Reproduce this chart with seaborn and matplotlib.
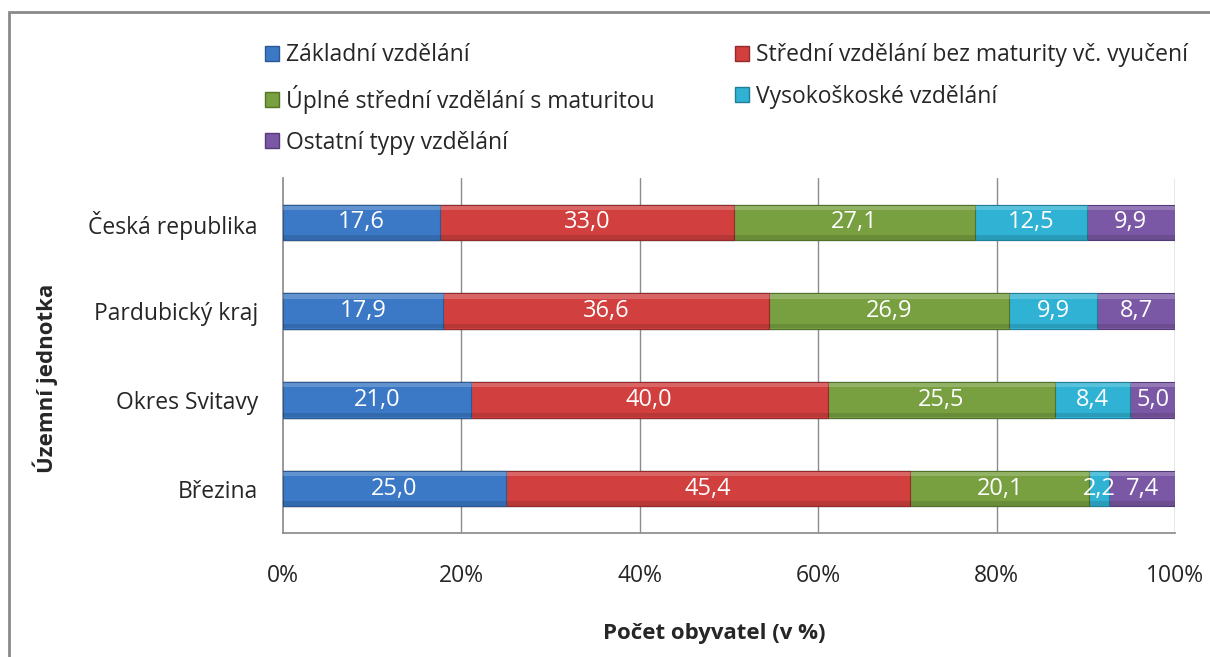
import numpy as np
import pandas as pd
import matplotlib
matplotlib.use("Agg")
import matplotlib.pyplot as plt
import matplotlib.patches as mpatches
import seaborn as sns

# data (in %)
units = ["Česká republika", "Pardubický kraj", "Okres Svitavy", "Březina"]
series = ["Základní vzdělání",
          "Střední vzdělání bez maturity vč. vyučení",
          "Úplné střední vzdělání s maturitou",
          "Vysokoškoské vzdělání",
          "Ostatní typy vzdělání"]
zakladni = [17.6, 17.9, 21.0, 25.0]
stredni = [33.0, 36.6, 40.0, 45.4]
uplne = [27.1, 26.9, 25.5, 20.1]
vysoko = [12.5, 9.9, 8.4, 2.2]
ostatni = [9.9, 8.7, 5.0, 7.4]

colors = ["#3b79c6", "#d23f3f", "#78a041", "#2fb2d3", "#7a58a5"]
edges = ["#2a5a94", "#942a2a", "#52722a", "#1f7f97", "#553c78"]

sns.set_theme(style="white")
plt.rcParams["font.family"] = ["Open Sans", "DejaVu Sans"]

vals = np.array([zakladni, stredni, uplne, vysoko, ostatni])
pct = vals / vals.sum(axis=0) * 100  # 100% stacked
cum = np.cumsum(pct, axis=0)
starts = cum - pct

fig = plt.figure(figsize=(12.1, 6.57), dpi=100)
ax = fig.add_axes([283 / 1210, 124 / 657, 892 / 1210, 355 / 657])

# draw cumulative bars from the right so each segment shows
for i in range(len(series) - 1, -1, -1):
    df = pd.DataFrame({"unit": units, "val": cum[i]})
    sns.barplot(data=df, x="val", y="unit", color=colors[i], width=0.4,
                saturation=1, orient="h", ax=ax, edgecolor=edges[i],
                linewidth=0.8, zorder=3)

# bevel highlight on top / shade at bottom
ypos = np.arange(len(units))
for i in range(len(series)):
    ax.barh(ypos - 0.2 + 0.035, pct[i], left=starts[i], height=0.05,
            color="white", alpha=0.2, linewidth=0, zorder=4)
    ax.barh(ypos + 0.2 - 0.03, pct[i], left=starts[i], height=0.05,
            color="black", alpha=0.12, linewidth=0, zorder=4)

for i in range(len(series)):
    for j in range(len(units)):
        ax.text(starts[i, j] + pct[i, j] / 2, j,
                f"{vals[i, j]:.1f}".replace(".", ","),
                ha="center", va="center", color="white", fontsize=17, zorder=5)

ax.set_xlim(0, 100)
ax.set_ylim(3.5, -0.5)
ax.set_xticks([0, 20, 40, 60, 80, 100])
ax.set_xticklabels([f"{t}%" for t in [0, 20, 40, 60, 80, 100]], fontsize=16.5)
ax.tick_params(axis="x", pad=22, length=0)
ax.tick_params(axis="y", pad=18, length=0, labelsize=16.5)
for v in [20, 40, 60, 80, 100]:
    ax.axvline(v, color="#8c8c8c", lw=1, zorder=1)
ax.spines["top"].set_visible(False)
ax.spines["right"].set_visible(False)
ax.spines["left"].set_color("#8c8c8c")
ax.spines["bottom"].set_color("#8c8c8c")
ax.set_xlabel("Počet obyvatel (v %)", fontsize=16, fontweight="bold")
ax.set_ylabel("Územní jednotka", fontsize=16, fontweight="bold")
ax.xaxis.set_label_coords((714 - 283) / 892, -(633 - 533) / 355, transform=ax.transAxes)
ax.yaxis.set_label_coords(-(283 - 45) / 892, (533 - 378) / 355, transform=ax.transAxes)
ax.xaxis.label.set_va("center")
ax.yaxis.label.set_va("center")

handles = [mpatches.Patch(facecolor=colors[i], edgecolor=edges[i]) for i in range(5)]
order = [0, 2, 4, 1, 3]
fig.legend([handles[i] for i in order], [series[i] for i in order],
           loc="upper left", bbox_to_anchor=(254 / 1210, 1 - 32 / 657),
           ncol=2, frameon=False, fontsize=16.5, handlelength=0.6,
           handleheight=0.6, handletextpad=0.3, labelspacing=0.75,
           columnspacing=3.5, borderpad=0)

# chart frame
fig.patches.append(mpatches.Rectangle((9 / 1210, -0.05), 1.1, 1 - 12 / 657 + 0.05,
                                      transform=fig.transFigure, fill=False,
                                      edgecolor="#8a8a8a", lw=2))

fig.savefig("out.png", dpi=100)
